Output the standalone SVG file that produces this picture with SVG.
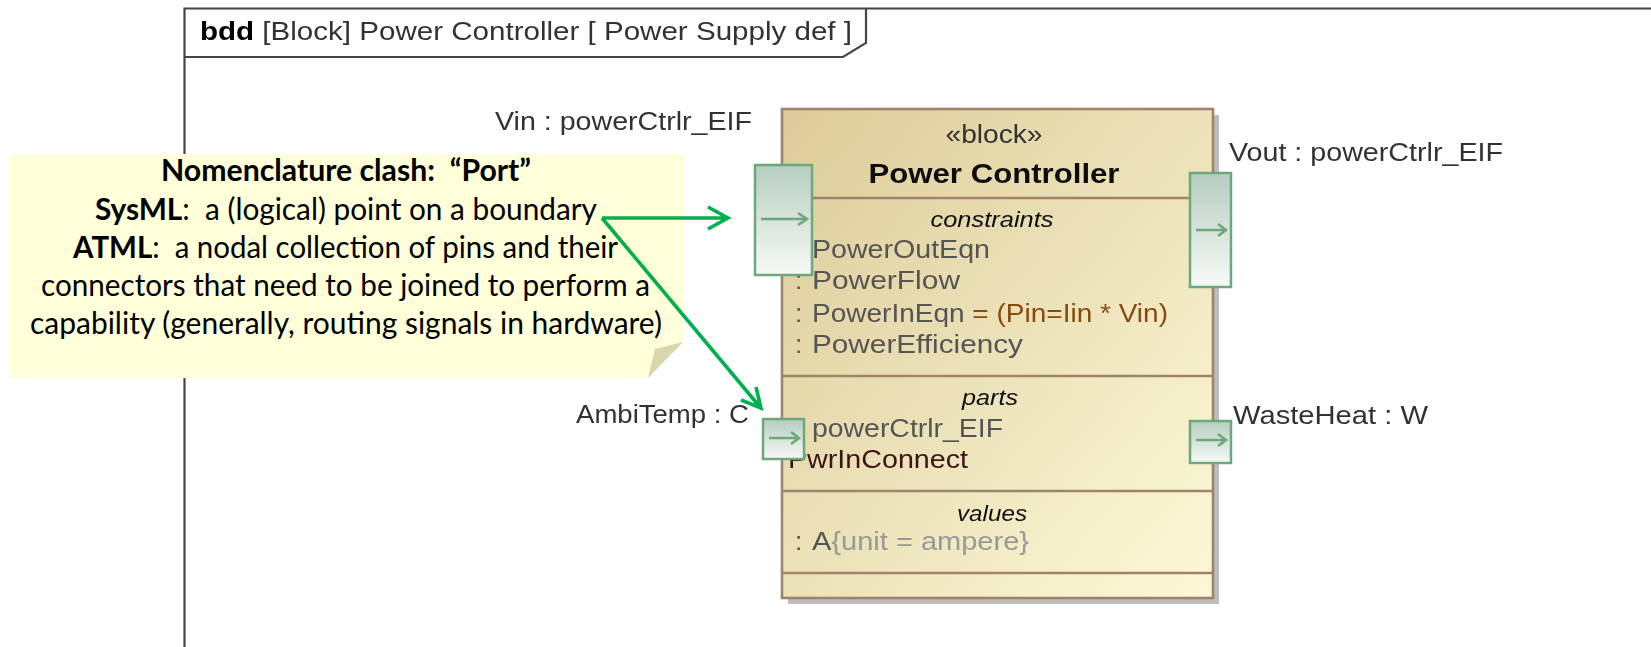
<svg xmlns="http://www.w3.org/2000/svg" width="1651" height="647" viewBox="0 0 1651 647">
<style>
.u{font-family:"Liberation Sans",Arial,sans-serif;font-size:26px;fill:#333}
.m{font-size:26px;fill:#555}
.i{font-style:italic;font-size:22px;fill:#111;text-anchor:middle}
.n{font-family:Lato,"Open Sans",sans-serif;font-size:30px;fill:#000;text-anchor:middle}
.b{font-weight:700}
.line{stroke:#a0836a;stroke-width:2.5;fill:none}
.port{stroke:#6ca87c;stroke-width:2.5;fill:url(#pg)}
.pa{stroke:#6ca87c;stroke-width:2.6;fill:none}
.g{stroke:#00b050;stroke-width:3.6;fill:none}
</style>
<defs>
<linearGradient id="bg" x1="0" y1="0" x2="1" y2="1"><stop offset="0" stop-color="#dccb99"/><stop offset="1" stop-color="#fcf9d8"/></linearGradient>
<linearGradient id="pg" x1="0" y1="0" x2="0" y2="1"><stop offset="0" stop-color="#b6cdbf"/><stop offset="1" stop-color="#f7faf7"/></linearGradient>
<filter id="soft" x="-5%" y="-5%" width="110%" height="110%"><feGaussianBlur stdDeviation="0.7"/></filter>
</defs>
<rect width="1651" height="647" fill="#fff"/>
<g filter="url(#soft)">
<g id="frame">
<path d="M184.500 647V8.500H1651" fill="none" stroke="#444" stroke-width="2.2"/>
<path d="M184.500 57H843L866 43V8.500" fill="none" stroke="#444" stroke-width="2.2"/>
<text class="u" x="200" y="40" textLength="652" lengthAdjust="spacingAndGlyphs"><tspan class="b" fill="#000">bdd</tspan> [Block] Power Controller [ Power Supply def ]</text>
</g>
<g id="power-controller">
<rect x="788" y="115" width="431" height="489" fill="#bdbdbd"/>
<rect x="782" y="109" width="431" height="489" fill="url(#bg)" stroke="#a0836a" stroke-width="2.6"/>
<path class="line" d="M782 198H1213M782 376H1213M782 491H1213M782 573H1213"/>
<text class="u" x="994" y="143" text-anchor="middle" textLength="97" lengthAdjust="spacingAndGlyphs">«block»</text>
<text class="u b" x="994" y="183" text-anchor="middle" style="fill:#111;font-size:27px" textLength="251" lengthAdjust="spacingAndGlyphs">Power Controller</text>
<text class="u i" x="992" y="227" textLength="123" lengthAdjust="spacingAndGlyphs">constraints</text>
<text class="u m" x="795" y="258">:</text><text class="u m" x="812" y="258" textLength="178" lengthAdjust="spacingAndGlyphs">PowerOutEqn</text>
<text class="u m" x="795" y="289">:</text><text class="u m" x="812" y="289" textLength="148" lengthAdjust="spacingAndGlyphs">PowerFlow</text>
<text class="u m" x="795" y="322">:</text><text class="u m" x="812" y="322" textLength="356" lengthAdjust="spacingAndGlyphs">PowerInEqn <tspan style="fill:#8a4a10">= (Pin=Iin * Vin)</tspan></text>
<text class="u m" x="795" y="353">:</text><text class="u m" x="812" y="353" textLength="211" lengthAdjust="spacingAndGlyphs">PowerEfficiency</text>
<text class="u i" x="990" y="405" textLength="56" lengthAdjust="spacingAndGlyphs">parts</text>
<text class="u m" x="795" y="437">:</text><text class="u m" x="812" y="437" textLength="191" lengthAdjust="spacingAndGlyphs">powerCtrlr_EIF</text>
<text class="u m" x="788" y="468" style="fill:#3a1212" textLength="180" lengthAdjust="spacingAndGlyphs">PwrInConnect</text>
<text class="u i" x="992" y="521" textLength="70" lengthAdjust="spacingAndGlyphs">values</text>
<text class="u m" x="795" y="550">:</text><text class="u m" x="812" y="550" textLength="217" lengthAdjust="spacingAndGlyphs">A<tspan style="fill:#999">{unit = ampere}</tspan></text>
</g>
<g id="port-vin">
<rect class="port" x="755" y="165" width="57" height="110"/>
<path class="pa" d="M761 219H807M798 213L807 219L798 225"/>
<text class="u" x="495" y="130" textLength="257" lengthAdjust="spacingAndGlyphs">Vin : powerCtrlr_EIF</text>
</g>
<g id="port-vout">
<rect class="port" x="1190" y="173" width="41" height="114"/>
<path class="pa" d="M1196 230H1226M1218 224L1226 230L1218 236"/>
<text class="u" x="1229" y="161" textLength="274" lengthAdjust="spacingAndGlyphs">Vout : powerCtrlr_EIF</text>
</g>
<g id="port-ambitemp">
<rect class="port" x="763" y="419" width="41" height="40"/>
<path class="pa" d="M769 438H799M791 432L799 438L791 444"/>
<text class="u" x="576" y="423" textLength="173" lengthAdjust="spacingAndGlyphs">AmbiTemp : C</text>
</g>
<g id="port-wasteheat">
<rect class="port" x="1190" y="421" width="41" height="42"/>
<path class="pa" d="M1196 440H1226M1218 434L1226 440L1218 446"/>
<text class="u" x="1233" y="424" textLength="195" lengthAdjust="spacingAndGlyphs">WasteHeat : W</text>
</g>
</g>
<g id="note">
<path d="M10 154H683V342L648 378H10Z" fill="#ffffd9"/>
<path d="M683 342L655 349L648 378Z" fill="#d8d7ab"/>
<text class="n b" x="346" y="181" xml:space="preserve" textLength="370" lengthAdjust="spacingAndGlyphs">Nomenclature clash:  “Port”</text>
<text class="n" x="346" y="220" xml:space="preserve" textLength="502" lengthAdjust="spacingAndGlyphs"><tspan class="b">SysML</tspan>:  a (logical) point on a boundary</text>
<text class="n" x="345.500" y="258" xml:space="preserve" textLength="545" lengthAdjust="spacingAndGlyphs"><tspan class="b">ATML</tspan>:  a nodal collection of pins and their</text>
<text class="n" x="345.500" y="296" textLength="609" lengthAdjust="spacingAndGlyphs">connectors that need to be joined to perform a</text>
<text class="n" x="346" y="334" textLength="632" lengthAdjust="spacingAndGlyphs">capability (generally, routing signals in hardware)</text>
</g>
<g id="connectors">
<path class="g" d="M602 218H726M708 207L728 218L708 229"/>
<path class="g" d="M602 218L760 407M741 400L761 408L756 387"/>
</g>
</svg>
